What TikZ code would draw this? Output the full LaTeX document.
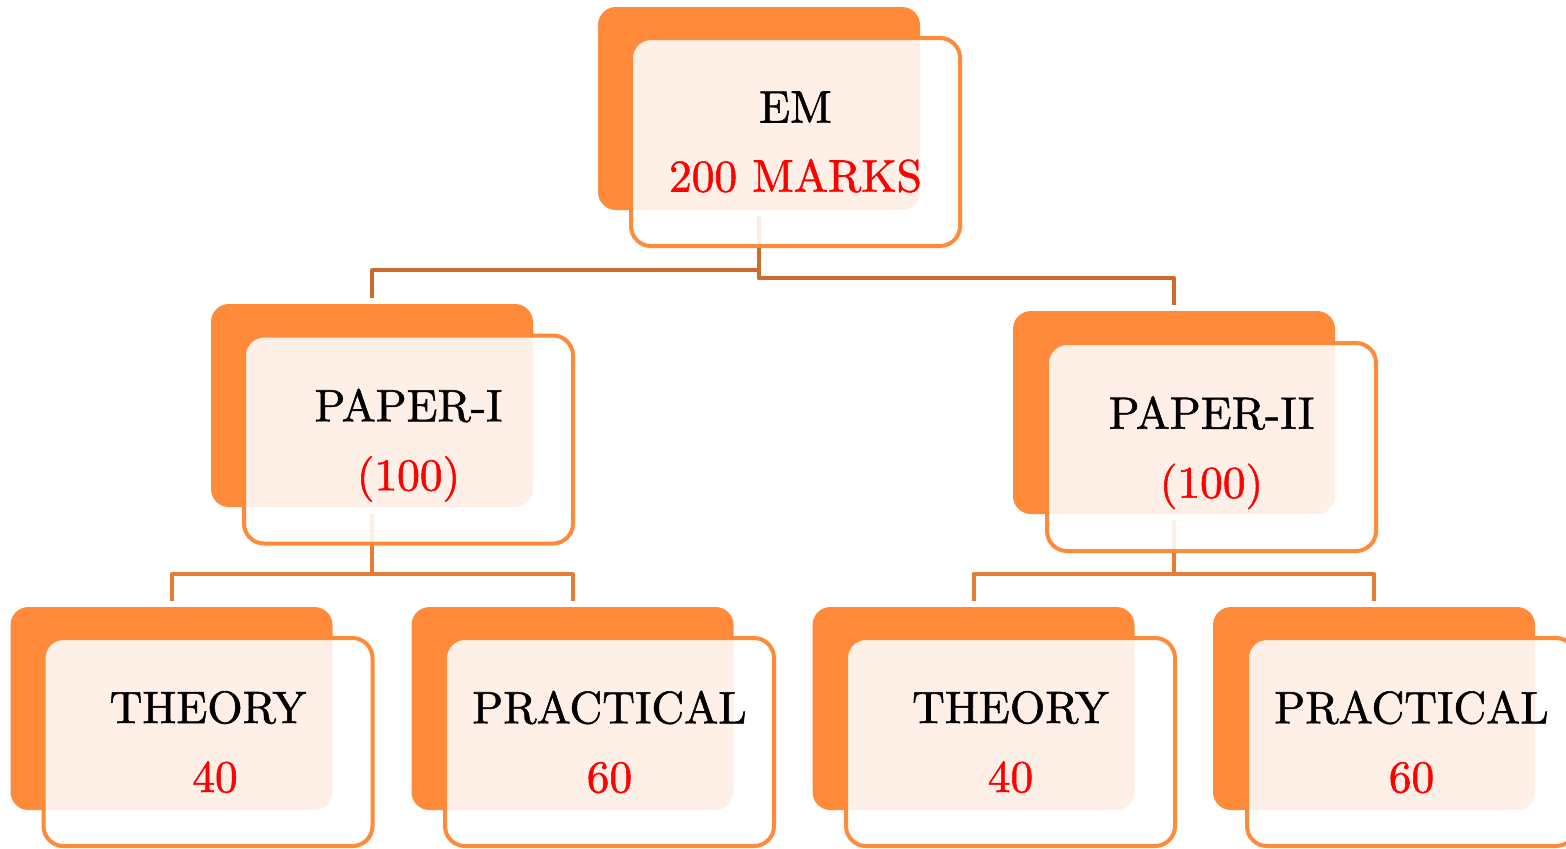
\documentclass[tikz,border=0pt]{standalone}
\usepackage{fontspec}
\setmainfont{lmroman10-regular.otf}[FakeBold=1.2]
\usetikzlibrary{calc}
\definecolor{boxorange}{HTML}{FF8A3A}
\definecolor{connA}{HTML}{CC6B2E}
\definecolor{connB}{HTML}{E57D35}
\definecolor{markred}{HTML}{FF0000}
\tikzset{
  backbox/.style={fill=boxorange, draw=none, rounded corners=9pt,
    minimum width=161pt, minimum height=101.5pt, inner sep=0pt},
  frontbox/.style={draw=boxorange, line width=2pt, fill=white, fill opacity=0.88,
    text opacity=1, draw opacity=1, rounded corners=10pt, minimum width=164.5pt,
    minimum height=104pt, align=center, inner sep=0pt,
    font=\fontsize{22.7}{34.5}\selectfont},
  conntop/.style={draw=connA, line width=2pt, line join=round},
  connlow/.style={draw=connB, line width=2pt, line join=round},
}
\begin{document}
\begin{tikzpicture}[x=0.5pt,y=-0.5pt]
\useasboundingbox (0,0) rectangle (1566,848);
\clip (0,0) rectangle (1566,848);
% back boxes
\node[backbox] (emb)  at (759,108.5) {};
\node[backbox] (p1b)  at (372,405.5) {};
\node[backbox] (p2b)  at (1174,412.5) {};
\node[backbox] (t1b)  at (171.5,708.5) {};
\node[backbox] (pr1b) at (572.5,708.5) {};
\node[backbox] (t2b)  at (973.5,708.5) {};
\node[backbox] (pr2b) at (1374,708.5) {};
% connectors
\draw[conntop] ([yshift=-3pt]emb.south) -- ++(0,54) -| ([yshift=3pt]p1b.north);
\draw[conntop] ([yshift=-3pt]emb.south) -- ++(0,62) -| ([yshift=3pt]p2b.north);
\draw[connlow] ([yshift=-3pt]p1b.south) -- ++(0,61) -| ([yshift=3pt]t1b.north);
\draw[connlow] ([yshift=-3pt]p1b.south) -- ++(0,61) -| ([yshift=3pt]pr1b.north);
\draw[connlow] ([yshift=-3pt]p2b.south) -- ++(0,54) -| ([yshift=3pt]t2b.north);
\draw[connlow] ([yshift=-3pt]p2b.south) -- ++(0,54) -| ([yshift=3pt]pr2b.north);
% front boxes
\node[frontbox] (em)  at (795.5,142)  {EM\\\textcolor{markred}{200 MARKS}};
\node[frontbox] (p1)  at (408.5,439.5) {PAPER-I\\\textcolor{markred}{\smash{(100)}}};
\node[frontbox] (p2)  at (1211.5,447) {PAPER-II\\\textcolor{markred}{\smash{(100)}}};
\node[frontbox] (t1)  at (208,742)    {THEORY\\\hspace*{7pt}\textcolor{markred}{40}};
\node[frontbox] (pr1) at (609.5,742)  {PRACTICAL\\\textcolor{markred}{60}};
\node[frontbox] (t2)  at (1010.5,742) {THEORY\\\textcolor{markred}{40}};
\node[frontbox] (pr2) at (1411.5,742) {PRACTICAL\\\textcolor{markred}{60}};
\end{tikzpicture}
\end{document}
